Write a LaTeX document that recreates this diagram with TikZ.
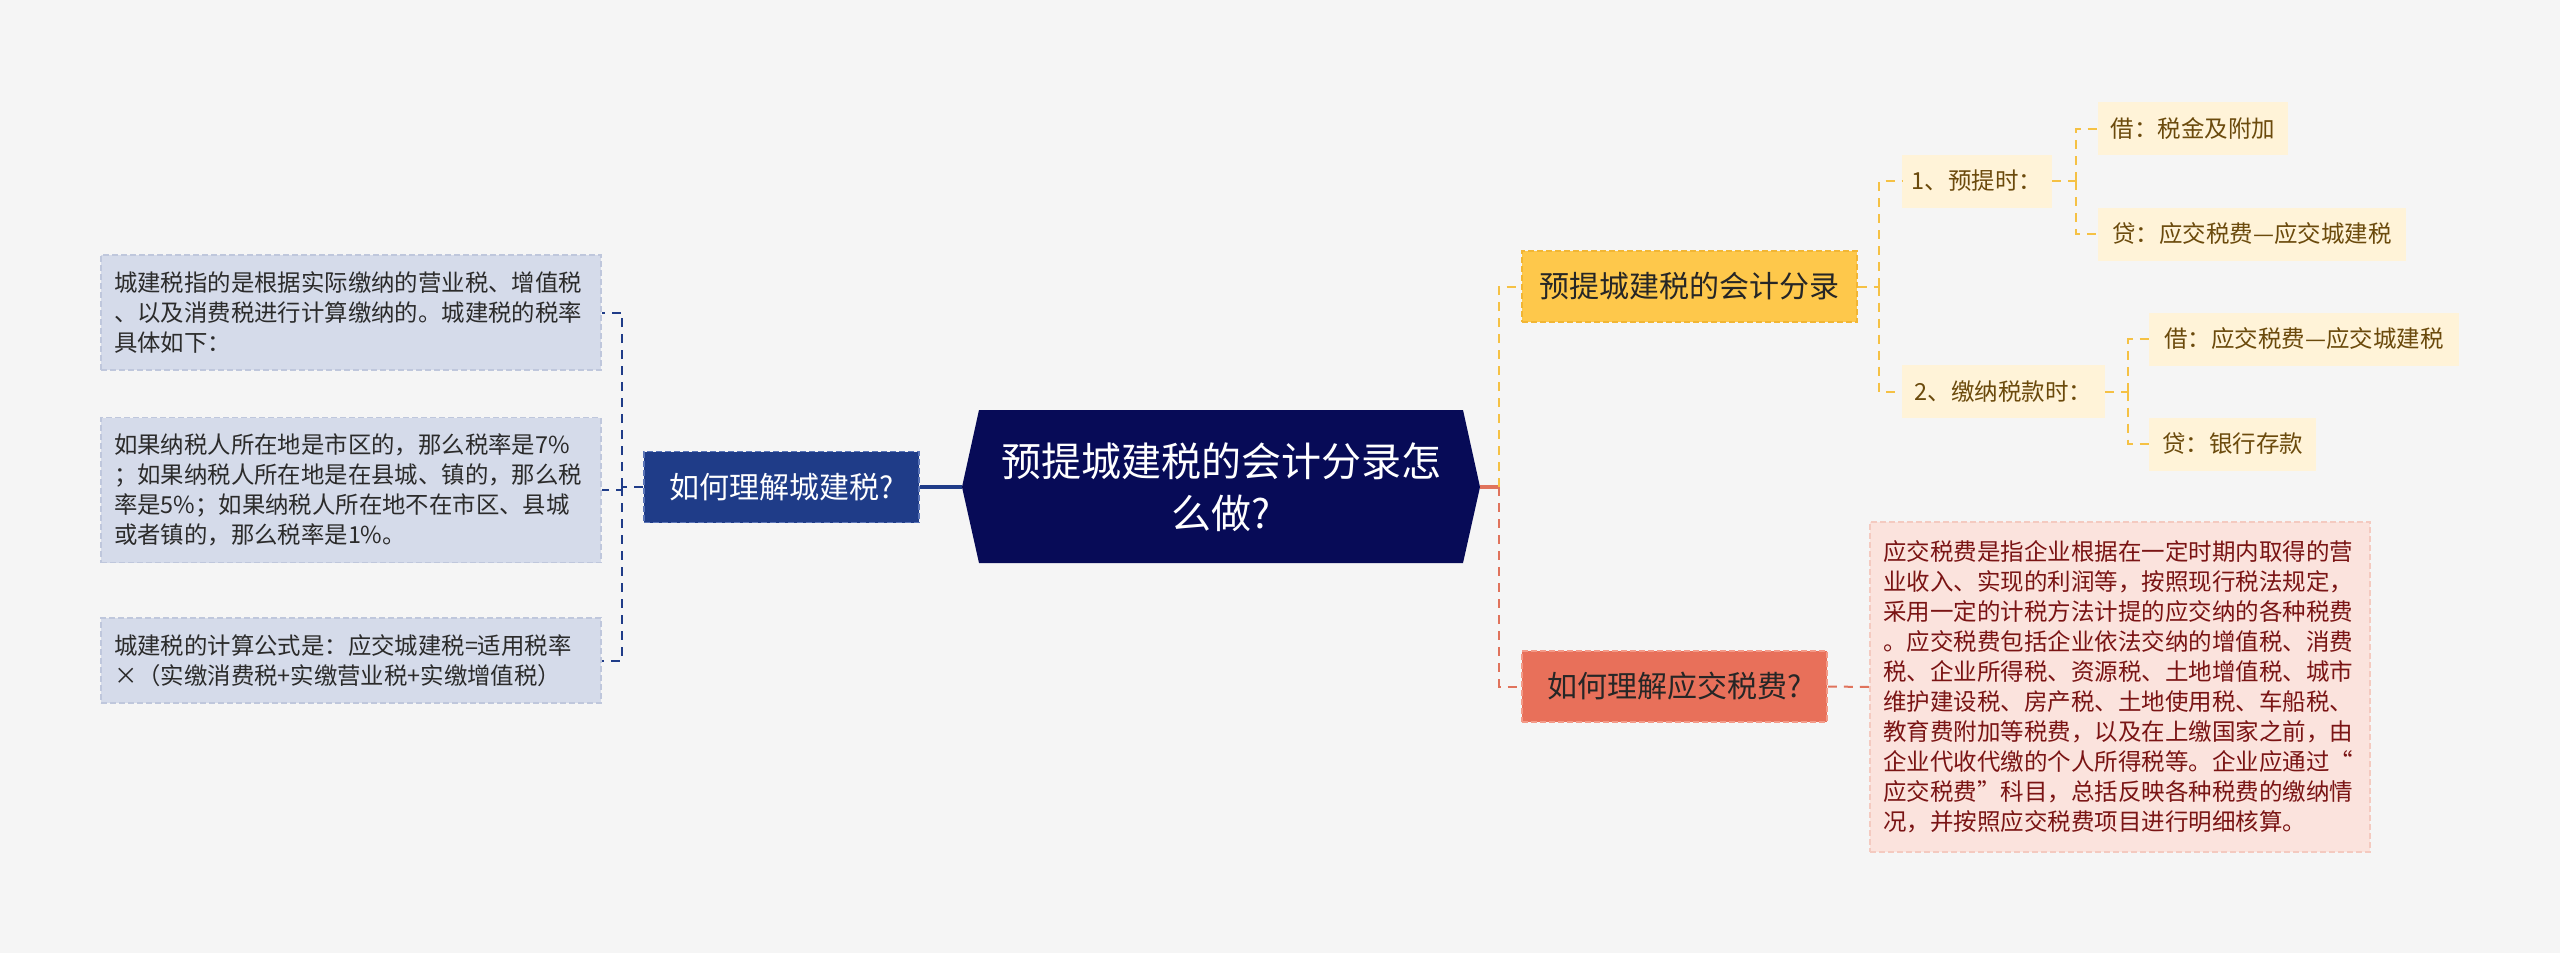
\documentclass[tikz,border=0pt]{standalone}
\usepackage{fontspec}
\setmainfont{Noto Sans CJK SC}
\definecolor{bgcol}{HTML}{F5F5F5}
\definecolor{navy}{HTML}{070B57}
\definecolor{lqblue}{HTML}{1F3C88}
\definecolor{lqedge}{HTML}{5A74B6}
\definecolor{leafblue}{HTML}{D5DBEA}
\definecolor{leafedge}{HTML}{BFC7DC}
\definecolor{leaftext}{HTML}{2B2B2B}
\definecolor{ybox}{HTML}{FEC84B}
\definecolor{yedge}{HTML}{F2B634}
\definecolor{cream}{HTML}{FFF3D8}
\definecolor{creamtext}{HTML}{6B4A0C}
\definecolor{ycon}{HTML}{F5C144}
\definecolor{cbox}{HTML}{E8705A}
\definecolor{cedge}{HTML}{F39A88}
\definecolor{ccon}{HTML}{E0735C}
\definecolor{pink}{HTML}{FBE3DD}
\definecolor{pinkedge}{HTML}{F4CAC0}
\definecolor{pinktext}{HTML}{7A1414}

\begin{document}
\begin{tikzpicture}[x=1pt, y=-1pt,
  root/.style={minimum width=518pt, minimum height=153pt, inner sep=0pt, text=white, align=center, font=\fontsize{40}{52}\selectfont},
  topic/.style={draw, line width=1.6pt, dash pattern=on 6pt off 3pt, minimum height=71pt, inner sep=0pt, font=\fontsize{30}{36}\selectfont},
  leaf/.style={fill=leafblue, draw=leafedge, line width=1.4pt, dash pattern=on 6pt off 3pt, text width=474pt, align=left, inner xsep=13pt, inner ysep=0pt, text=leaftext, font=\fontsize{23.4}{30}\selectfont},
  sub/.style={fill=cream, minimum height=53pt, inner sep=0pt, text=creamtext, font=\fontsize{23.5}{30}\selectfont},
  note/.style={fill=pink, draw=pinkedge, line width=1.4pt, dash pattern=on 6pt off 3pt, text width=474pt, align=left, inner xsep=13pt, inner ysep=0pt, text=pinktext, font=\fontsize{23.5}{30}\selectfont},
  bline/.style={draw=lqblue, line width=2pt, dash pattern=on 9pt off 7pt},
  yline/.style={draw=ycon, line width=2pt, dash pattern=on 9pt off 7pt},
  cline/.style={draw=ccon, line width=2pt, dash pattern=on 9pt off 7pt}
]

\fill[bgcol] (0,0) rectangle (2560,953);
\useasboundingbox (0,0) rectangle (2560,953);

\fill[navy] (979,410) -- (1463,410) -- (1480,487) -- (1463,563) -- (979,563) -- (962,487) -- cycle;
\node[root] (root) at (1221,487) {预提城建税的会计分录怎\\么做?};

\node[topic, fill=lqblue, draw=lqedge, text=white, minimum width=275pt] (lq) at (781.5,487) {如何理解城建税?};

\node[leaf, minimum height=115pt] (l1) at (351,312.5) {城建税指的是根据实际缴纳的营业税、增值税\\、以及消费税进行计算缴纳的。城建税的税率\\具体如下：};
\node[leaf, minimum height=145pt] (l2) at (351,490) {如果纳税人所在地是市区的，那么税率是7\%\\；如果纳税人所在地是在县城、镇的，那么税\\率是5\%；如果纳税人所在地不在市区、县城\\或者镇的，那么税率是1\%。};
\node[leaf, minimum height=85pt] (l3) at (351,660.5) {城建税的计算公式是：应交城建税=适用税率\\×（实缴消费税+实缴营业税+实缴增值税）};

\node[topic, fill=ybox, draw=yedge, text=black!85, minimum width=335pt] (rq1) at (1689.5,286.5) {预提城建税的会计分录};
\node[topic, fill=cbox, draw=cedge, text=black!85, minimum width=305pt] (rq2) at (1674.5,686.5) {如何理解应交税费?};

\node[sub, minimum width=150pt] (y1) at (1977,181) {1、预提时：};
\node[sub, minimum width=203pt] (y2) at (2003.5,391.5) {2、缴纳税款时：};
\node[sub, minimum width=190pt] (y11) at (2193,128.5) {借：税金及附加};
\node[sub, minimum width=308pt] (y12) at (2252,234) {贷：应交税费—应交城建税};
\node[sub, minimum width=310pt] (y21) at (2304,339) {借：应交税费—应交城建税};
\node[sub, minimum width=167pt] (y22) at (2232.5,444) {贷：银行存款};

\node[note, minimum height=330pt] (r1) at (2120,687) {应交税费是指企业根据在一定时期内取得的营\\业收入、实现的利润等，按照现行税法规定，\\采用一定的计税方法计提的应交纳的各种税费\\。应交税费包括企业依法交纳的增值税、消费\\税、企业所得税、资源税、土地增值税、城市\\维护建设税、房产税、土地使用税、车船税、\\教育费附加等税费，以及在上缴国家之前，由\\企业代收代缴的个人所得税等。企业应通过“\\应交税费”科目，总括反映各种税费的缴纳情\\况，并按照应交税费项目进行明细核算。};

\coordinate (lj) at (622,487);
\coordinate (rj) at (1499,487);
\coordinate (yj) at (1879,286.5);
\coordinate (yj1) at (2076,181);
\coordinate (yj2) at (2128,391.5);

\draw[lqblue, line width=4pt] (root.west) -- (lq.east);
\draw[bline] (lq.west) -- (lj);
\draw[bline] (lj) |- (l1.east);
\draw[bline] (lj) |- (l2.east);
\draw[bline] (lj) |- (l3.east);

\draw[ccon, line width=4pt] (root.east) -- (rj);
\draw[yline] (rj) |- (rq1.west);
\draw[cline] (rj) |- (rq2.west);

\draw[yline] (rq1.east) -- (yj);
\draw[yline] (yj) |- (y1.west);
\draw[yline] (yj) |- (y2.west);
\draw[yline] (y1.east) -- (yj1);
\draw[yline] (yj1) |- (y11.west);
\draw[yline] (yj1) |- (y12.west);
\draw[yline] (y2.east) -- (yj2);
\draw[yline] (yj2) |- (y21.west);
\draw[yline] (yj2) |- (y22.west);

\draw[cline] (rq2.east) -- (r1.west);

\end{tikzpicture}
\end{document}
